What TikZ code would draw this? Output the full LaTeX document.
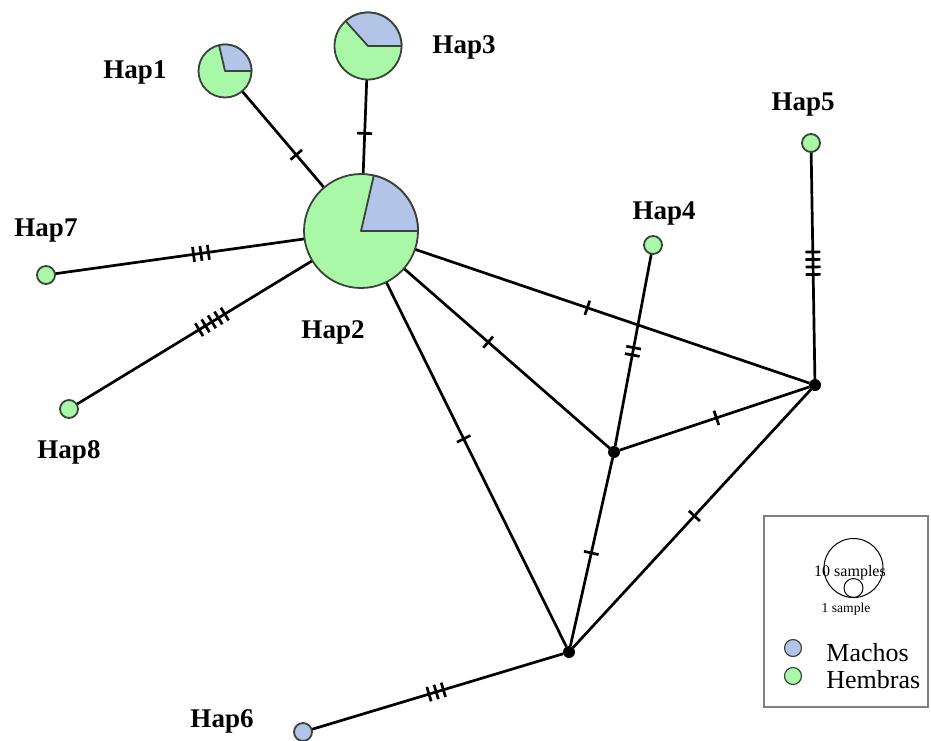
\documentclass[tikz,border=0pt]{standalone}
\usepackage{fontspec}
\setmainfont{Liberation Serif}
\usetikzlibrary{backgrounds}
\definecolor{hembra}{RGB}{168,248,168}
\definecolor{macho}{RGB}{178,196,232}
\definecolor{rim}{RGB}{58,66,58}
\begin{document}
\begin{tikzpicture}[x=0.5pt,y=-0.5pt,
  hap/.style={circle, draw=rim, line width=0.9pt, fill=hembra, inner sep=0pt, outer sep=0pt, minimum size=#1},
  hapm/.style={hap=#1, fill=macho},
  median/.style={circle, fill=black, inner sep=0pt, outer sep=0pt, minimum size=6pt},
  lab/.style={anchor=base, font=\fontsize{13.5}{15}\selectfont\bfseries, inner sep=0pt},
  edge/.style={line width=1.35pt, black},
  tick/.style={line width=1.35pt, black},
  wedge/.style={fill=macho, draw=rim, line width=0.9pt, line join=round},
  tks/.pic={\foreach \i in {1,...,#1}{\draw[tick] ({(\i-(#1+1)/2)*7.5},-7.5) -- ++(0,15);}},
  legtxt/.style={anchor=base west, font=\fontsize{13}{15}\selectfont, inner sep=0pt}]
\useasboundingbox (0,0) rectangle (931,740);

% haplotype circles
\node[hap=26.5pt] (h1) at (225,71) {};
\node[hap=57pt]   (h2) at (361,231) {};
\node[hap=33.5pt] (h3) at (368,46) {};
\node[hap=9pt]    (h4) at (653,245) {};
\node[hap=9pt]    (h5) at (811,143) {};
\node[hapm=9pt]   (h6) at (303,732) {};
\node[hap=9pt]    (h7) at (46,275) {};
\node[hap=9pt]    (h8) at (69,409) {};

% median vectors
\node[median] (m1) at (614,452) {};
\node[median] (m2) at (815,385) {};
\node[median] (m3) at (569,652) {};

% male share of the mixed haplotypes
\filldraw[wedge] (h1.center) foreach \a in {0,...,103}{ -- (h1.\a)} -- cycle;
\filldraw[wedge] (h2.center) foreach \a in {0,...,77}{ -- (h2.\a)} -- cycle;
\filldraw[wedge] (h3.center) foreach \a in {0,...,132}{ -- (h3.\a)} -- cycle;

% mutational steps
\begin{scope}[on background layer]
\draw[edge] (h1) -- (h2) pic[pos=0.66, sloped]{tks=1};
\draw[edge] (h3) -- (h2) pic[pos=0.57, sloped]{tks=1};
\draw[edge] (h7) -- (h2) pic[pos=0.585, sloped]{tks=3};
\draw[edge] (h8) -- (h2) pic[pos=0.574, sloped]{tks=5};
\draw[edge] (h2) -- (m2) pic[pos=0.437, sloped]{tks=1};
\draw[edge] (h2) -- (m1) pic[pos=0.41, sloped]{tks=1};
\draw[edge] (h2) -- (m3) pic[pos=0.43, sloped]{tks=1};
\draw[edge] (h4) -- (m1) pic[pos=0.507, sloped]{tks=2};
\draw[edge] (h5) -- (m2) pic[pos=0.49, sloped]{tks=4};
\draw[edge] (m1) -- (m2) pic[pos=0.51, sloped]{tks=1};
\draw[edge] (m1) -- (m3) pic[pos=0.505, sloped]{tks=1};
\draw[edge] (m2) -- (m3) pic[pos=0.49, sloped]{tks=1};
\draw[edge] (m3) -- (h6) pic[pos=0.505, sloped]{tks=3};
\end{scope}

% labels
\node[lab] (l1) at (135,78)  {Hap1};
\node[lab] (l2) at (333,338) {Hap2};
\node[lab] (l3) at (464,53)  {Hap3};
\node[lab] (l4) at (664,219) {Hap4};
\node[lab] (l5) at (803,110) {Hap5};
\node[lab] (l6) at (222,727) {Hap6};
\node[lab] (l7) at (46,236)  {Hap7};
\node[lab] (l8) at (69,458)  {Hap8};

% legend
\node[draw=gray, line width=1pt, minimum width=82pt, minimum height=95.5pt, inner sep=0pt] (legend) at (846,611.5) {};
\node[circle, draw=black, line width=0.5pt, minimum size=29.5pt, inner sep=0pt] (big) at (853.5,568) {};
\node[circle, draw=black, line width=0.5pt, minimum size=9.5pt, inner sep=0pt] (small) at (853.5,588) {};
\node[font=\fontsize{8}{9}\selectfont, inner sep=0pt] (t10) at (850,573) {10 samples};
\node[font=\fontsize{6.8}{7}\selectfont, inner sep=0pt] (t1) at (846,609) {1 sample};
\node[hapm=8.5pt, line width=0.6pt] (km) at (793,648) {};
\node[hap=8.5pt, line width=0.6pt] (kh) at (793,676) {};
\node[legtxt] (tm) at (826,661) {Machos};
\node[legtxt] (th) at (826,688) {Hembras};
\end{tikzpicture}
\end{document}
